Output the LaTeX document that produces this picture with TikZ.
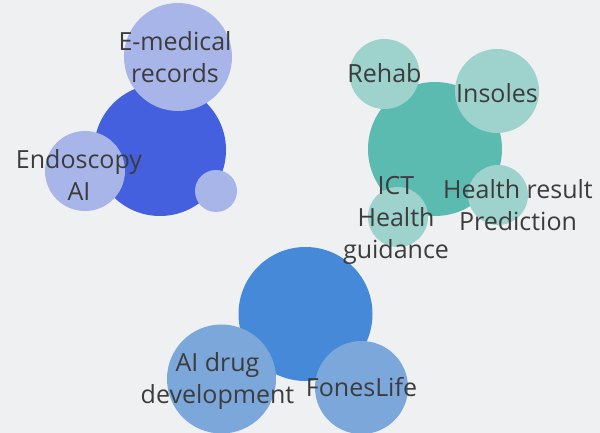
\documentclass[tikz,border=0pt]{standalone}
\usepackage{fontspec}
\setmainfont{Open Sans}
\usepackage{xcolor}
\usetikzlibrary{positioning}

\definecolor{hubBlue}{HTML}{4460DE}
\definecolor{leafBlue}{HTML}{A8B5E9}
\definecolor{hubTeal}{HTML}{5CBBB1}
\definecolor{leafTeal}{HTML}{9DD2CD}
\definecolor{hubSky}{HTML}{4689D8}
\definecolor{leafSky}{HTML}{7CA7DA}
\definecolor{ink}{HTML}{3C3C3C}
\definecolor{paper}{HTML}{EEF0F2}

\tikzset{
  bubble/.style={circle, inner sep=0pt, minimum size=#1},
  txt/.style={text=ink, align=center, inner sep=0pt, font=\fontsize{25}{32}\selectfont}
}

\begin{document}
\begin{tikzpicture}[x=1pt, y=-1pt]
  \fill[paper] (0,0) rectangle (600,433);
  \useasboundingbox (0,0) rectangle (600,433);

  % hospital group
  \node[bubble=132, fill=hubBlue] (blueHub) at (160,150) {};
  \node[bubble=108, fill=leafBlue] (emr) at (178,57) {};
  \node[bubble=80, fill=leafBlue] (endo) at (85,171) {};
  \node[bubble=42, fill=leafBlue] (dot) at (216,191) {};

  % healthcare group
  \node[bubble=134, fill=hubTeal] (tealHub) at (435,149) {};
  \node[bubble=70, fill=leafTeal] (rehab) at (384.5,74) {};
  \node[bubble=84, fill=leafTeal] (insoles) at (497,91) {};
  \node[bubble=60, fill=leafTeal] (predict) at (498,195) {};
  \node[bubble=60, fill=leafTeal] (ict) at (398,217) {};

  % pharma group
  \node[bubble=134, fill=hubSky] (skyHub) at (305.5,314) {};
  \node[bubble=109, fill=leafSky] (drug) at (221.5,379) {};
  \node[bubble=93, fill=leafSky] (fones) at (361.5,387.5) {};

  % labels
  \node[txt] (emrText) at ([shift={(-3,0)}]emr) {E-medical\\records};
  \node[txt] (endoText) at ([shift={(-6,4)}]endo) {Endoscopy\\AI};
  \node[txt] (rehabText) at ([shift={(0,-1)}]rehab) {Rehab};
  \node[txt] (insolesText) at ([shift={(0,2)}]insoles) {Insoles};
  \node[txt] (predictText) at ([shift={(20,10)}]predict) {Health result\\Prediction};
  \node[txt] (ictText) at ([shift={(-2,3)}]ict) {ICT\\Health\\guidance};
  \node[txt] (drugText) at ([shift={(-4,2)}]drug) {AI drug\\development};
  \node[txt] (fonesText) at (fones) {FonesLife};
\end{tikzpicture}
\end{document}
